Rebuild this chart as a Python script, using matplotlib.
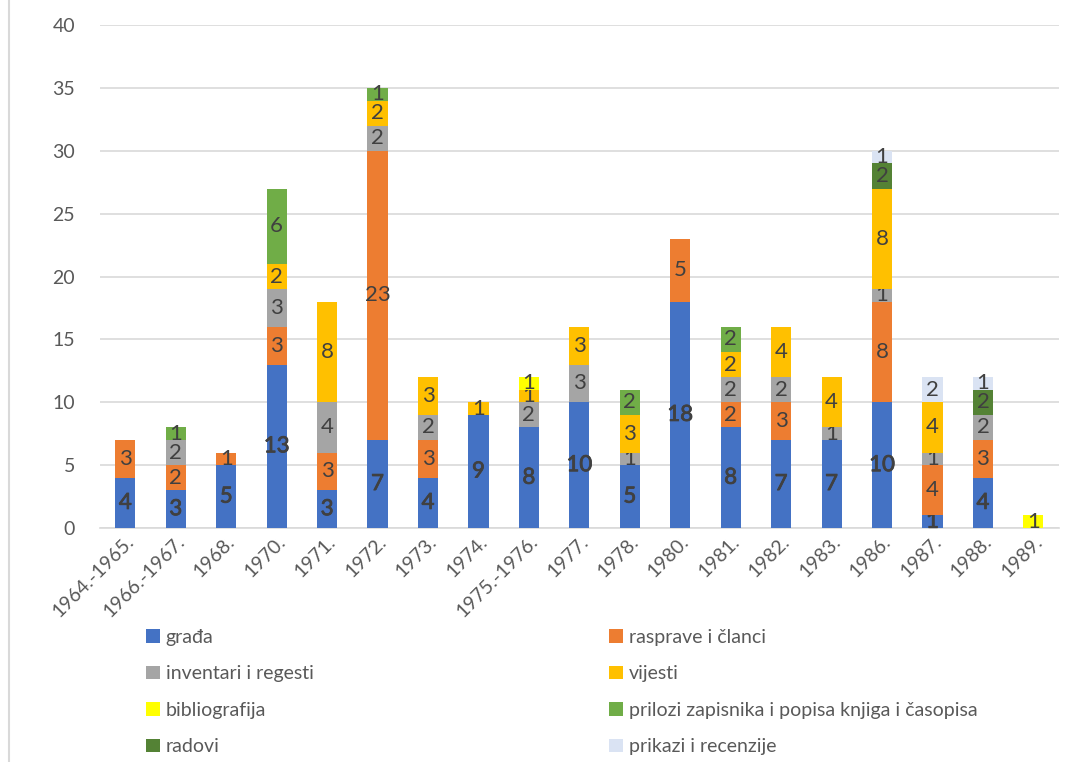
import matplotlib.pyplot as plt
import matplotlib.patheffects as pe
import numpy as np
from matplotlib.lines import Line2D

plt.rcParams['font.family'] = ['Lato', 'DejaVu Sans']

# podaci
godine = ["1964.-1965.", "1966.-1967.", "1968.", "1970.", "1971.", "1972.", "1973.",
          "1974.", "1975.-1976.", "1977.", "1978.", "1980.", "1981.", "1982.",
          "1983.", "1986.", "1987.", "1988.", "1989."]

grada       = [4, 3, 5, 13, 3, 7, 4, 9, 8, 10, 5, 18, 8, 7, 7, 10, 1, 4, 0]
rasprave    = [3, 2, 1, 3, 3, 23, 3, 0, 0, 0, 0, 5, 2, 3, 0, 8, 4, 3, 0]
inventari   = [0, 2, 0, 3, 4, 2, 2, 0, 2, 3, 1, 0, 2, 2, 1, 1, 1, 2, 0]
vijesti     = [0, 0, 0, 2, 8, 2, 3, 1, 1, 3, 3, 0, 2, 4, 4, 8, 4, 0, 0]
bibliogr    = [0, 0, 0, 0, 0, 0, 0, 0, 1, 0, 0, 0, 0, 0, 0, 0, 0, 0, 1]
prilozi     = [0, 1, 0, 6, 0, 1, 0, 0, 0, 0, 2, 0, 2, 0, 0, 0, 0, 0, 0]
radovi      = [0, 0, 0, 0, 0, 0, 0, 0, 0, 0, 0, 0, 0, 0, 0, 2, 0, 2, 0]
prikazi     = [0, 0, 0, 0, 0, 0, 0, 0, 0, 0, 0, 0, 0, 0, 0, 1, 2, 1, 0]

serije = [
    ("građa", grada, "#4472c4"),
    ("rasprave i članci", rasprave, "#ed7d31"),
    ("inventari i regesti", inventari, "#a5a5a5"),
    ("vijesti", vijesti, "#ffc000"),
    ("bibliografija", bibliogr, "#ffff00"),
    ("prilozi zapisnika i popisa knjiga i časopisa", prilozi, "#70ad47"),
    ("radovi", radovi, "#548235"),
    ("prikazi i recenzije", prikazi, "#dae3f3"),
]

fig = plt.figure(figsize=(10.65, 7.62), dpi=100)
ax = fig.add_axes([0.094, 0.307, 0.9, 0.66])

x = np.arange(len(godine))
dno = np.zeros(len(godine))
rucke = []
for ime, vrijednosti, boja in serije:
    v = np.array(vrijednosti, dtype=float)
    bars = ax.bar(x, v, 0.4, bottom=dno, color=boja, label=ime, zorder=3)
    oznake = [str(int(a)) if a > 0 else "" for a in v]
    tekstovi = ax.bar_label(bars, labels=oznake, label_type='center', fontsize=16,
                            color="#404040")
    if ime == "građa":
        # podebljane oznake za građu (tanki obrub)
        for t in tekstovi:
            t.set_path_effects([pe.withStroke(linewidth=0.6, foreground="#404040")])
    dno += v
    rucke.append(bars)

ax.set_ylim(0, 40)
ax.set_xlim(-0.5, len(godine) - 0.5)
ax.set_yticks(range(0, 41, 5))
ax.yaxis.grid(True, color="#d9d9d9", linewidth=1.2, zorder=0)
ax.set_axisbelow(True)
for s in ["top", "right", "left"]:
    ax.spines[s].set_visible(False)
ax.spines["bottom"].set_color("#d9d9d9")
ax.spines["bottom"].set_linewidth(1.2)
ax.tick_params(axis='both', length=0, labelsize=14, colors="#595959")
ax.tick_params(axis='y', pad=18)
ax.set_xticks(x)
ax.set_xticklabels(godine, rotation=45, ha='right', rotation_mode='anchor')

# legenda red po red (dva stupca)
redoslijed = [0, 2, 4, 6, 1, 3, 5, 7]
fig.legend([rucke[i] for i in redoslijed], [serije[i][0] for i in redoslijed],
           ncol=2, loc='upper left', bbox_to_anchor=(0.13, 0.185), frameon=False,
           fontsize=14, labelcolor="#595959", handlelength=0.7, handleheight=0.7,
           handletextpad=0.3, labelspacing=1.0, columnspacing=15.2, borderaxespad=0)

# okvir grafikona lijevo
fig.add_artist(Line2D([0.008, 0.008], [0, 1], transform=fig.transFigure,
                      color="#d9d9d9", linewidth=1.5))

fig.savefig("out.png", dpi=100)
